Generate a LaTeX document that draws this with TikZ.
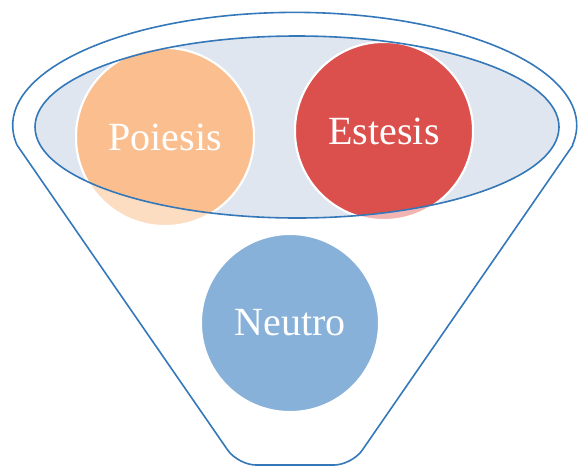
\documentclass[tikz,border=0pt]{standalone}
\usepackage{fontspec}
\setmainfont{Liberation Serif}

\definecolor{funnelline}{RGB}{52,120,186}
\definecolor{bowlfill}{RGB}{223,230,240}
\definecolor{poicol}{RGB}{251,191,143}
\definecolor{poifade}{RGB}{253,221,194}
\definecolor{estcol}{RGB}{219,79,76}
\definecolor{estfade}{RGB}{242,180,178}
\definecolor{neucol}{RGB}{135,177,216}

\begin{document}
\begin{tikzpicture}[x=1pt, y=-1pt,
      funnel/.style={draw=funnelline, line width=1.6pt},
      bubble/.style={circle, draw=white, line width=2pt, minimum size=178pt,
        inner sep=0pt, text=white, font=\fontsize{40}{48}\selectfont}]

    \useasboundingbox (0,0) rectangle (579,467);

    % funnel outline
    \coordinate (lc) at (17,145);
    \coordinate (rc) at (573,145);
    \coordinate (bl) at (238,465);
    \coordinate (br) at (352,465);

    \draw[funnel] (lc) arc[start angle=170, end angle=370, x radius=282, y radius=113];
    \draw[funnel, rounded corners=18pt] (lc) -- (bl) -- (br) -- (rc);

    % mouth of the funnel
    \fill[bowlfill] (297,127) ellipse[x radius=262, y radius=91];

    \node[bubble, fill=poifade] (poiesis-back) at (165,137) {};
    \node[bubble, fill=estfade] (estesis-back) at (384,131) {};

    \begin{scope}
      \clip (297,127) ellipse[x radius=262, y radius=91];
      \node[bubble, fill=poicol] (poiesis) at (165,137) {Poiesis};
      \node[bubble, fill=estcol] (estesis) at (384,131) {Estesis};
    \end{scope}

    \draw[funnel] (297,127) ellipse[x radius=262, y radius=91];

    \node[bubble, fill=neucol] (neutro) at (290,323) {Neutro};

  \end{tikzpicture}
\end{document}
